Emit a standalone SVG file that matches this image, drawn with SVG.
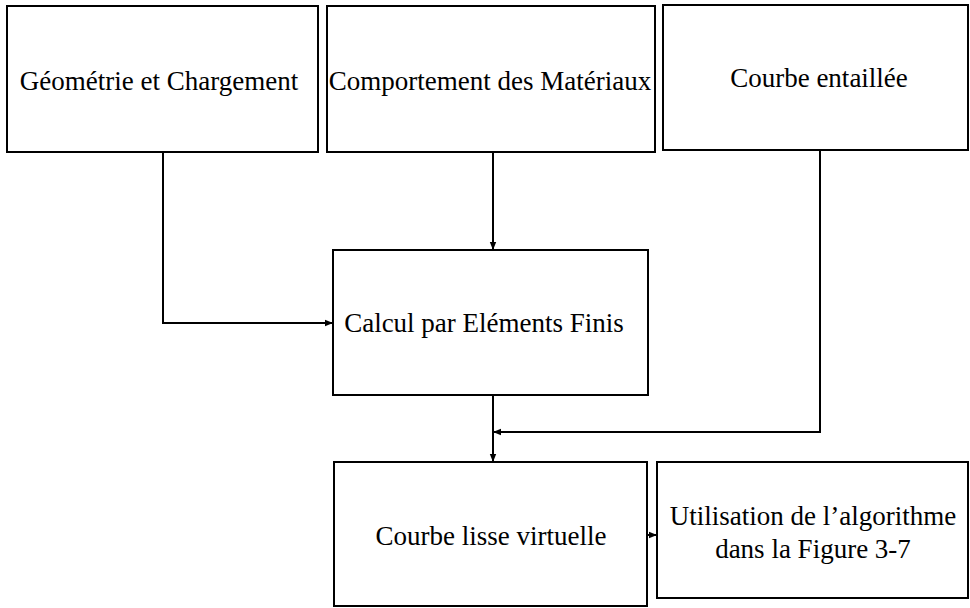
<svg xmlns="http://www.w3.org/2000/svg" width="970" height="608" viewBox="0 0 970 608">
<defs>
<marker id="ah" viewBox="0 0 10 10" refX="10" refY="5" markerWidth="8" markerHeight="8" markerUnits="userSpaceOnUse" orient="auto">
<path d="M0,1 L10,5 L0,9 z" fill="#000"/>
</marker>
</defs>
<style>
.box{fill:#fff;stroke:#000;stroke-width:2}
.t{font-family:"Liberation Serif","Times New Roman",serif;font-size:27px;fill:#000;text-anchor:middle}
.c{fill:none;stroke:#000;stroke-width:2;marker-end:url(#ah)}
</style>
<rect width="970" height="608" fill="#fff"/>
<g id="geometrie">
<rect class="box" x="7" y="6" width="311" height="146"/>
<text class="t" x="159" y="90">Géométrie et Chargement</text>
</g>
<g id="comportement">
<rect class="box" x="327" y="6" width="328" height="146"/>
<text class="t" x="490" y="90">Comportement des Matériaux</text>
</g>
<g id="courbe-entaillee">
<rect class="box" x="663" y="5" width="305" height="145"/>
<text class="t" x="819" y="87">Courbe entaillée</text>
</g>
<g id="calcul">
<rect class="box" x="333" y="250" width="315" height="145"/>
<text class="t" x="484" y="332">Calcul par Eléments Finis</text>
</g>
<g id="courbe-lisse">
<rect class="box" x="334" y="462" width="313" height="144"/>
<text class="t" x="491" y="545">Courbe lisse virtuelle</text>
</g>
<g id="utilisation">
<rect class="box" x="657" y="462" width="311" height="136"/>
<text class="t" x="813" y="525">Utilisation de l’algorithme</text>
<text class="t" x="813" y="558">dans la Figure 3-7</text>
</g>
<g id="connectors">
<path class="c" d="M163,152 V323 H333"/>
<path class="c" d="M493,152 V250"/>
<path class="c" d="M493,395 V462"/>
<path class="c" d="M820,150 V432 H493"/>
<path class="c" d="M647,535 H657"/>
</g>
</svg>
